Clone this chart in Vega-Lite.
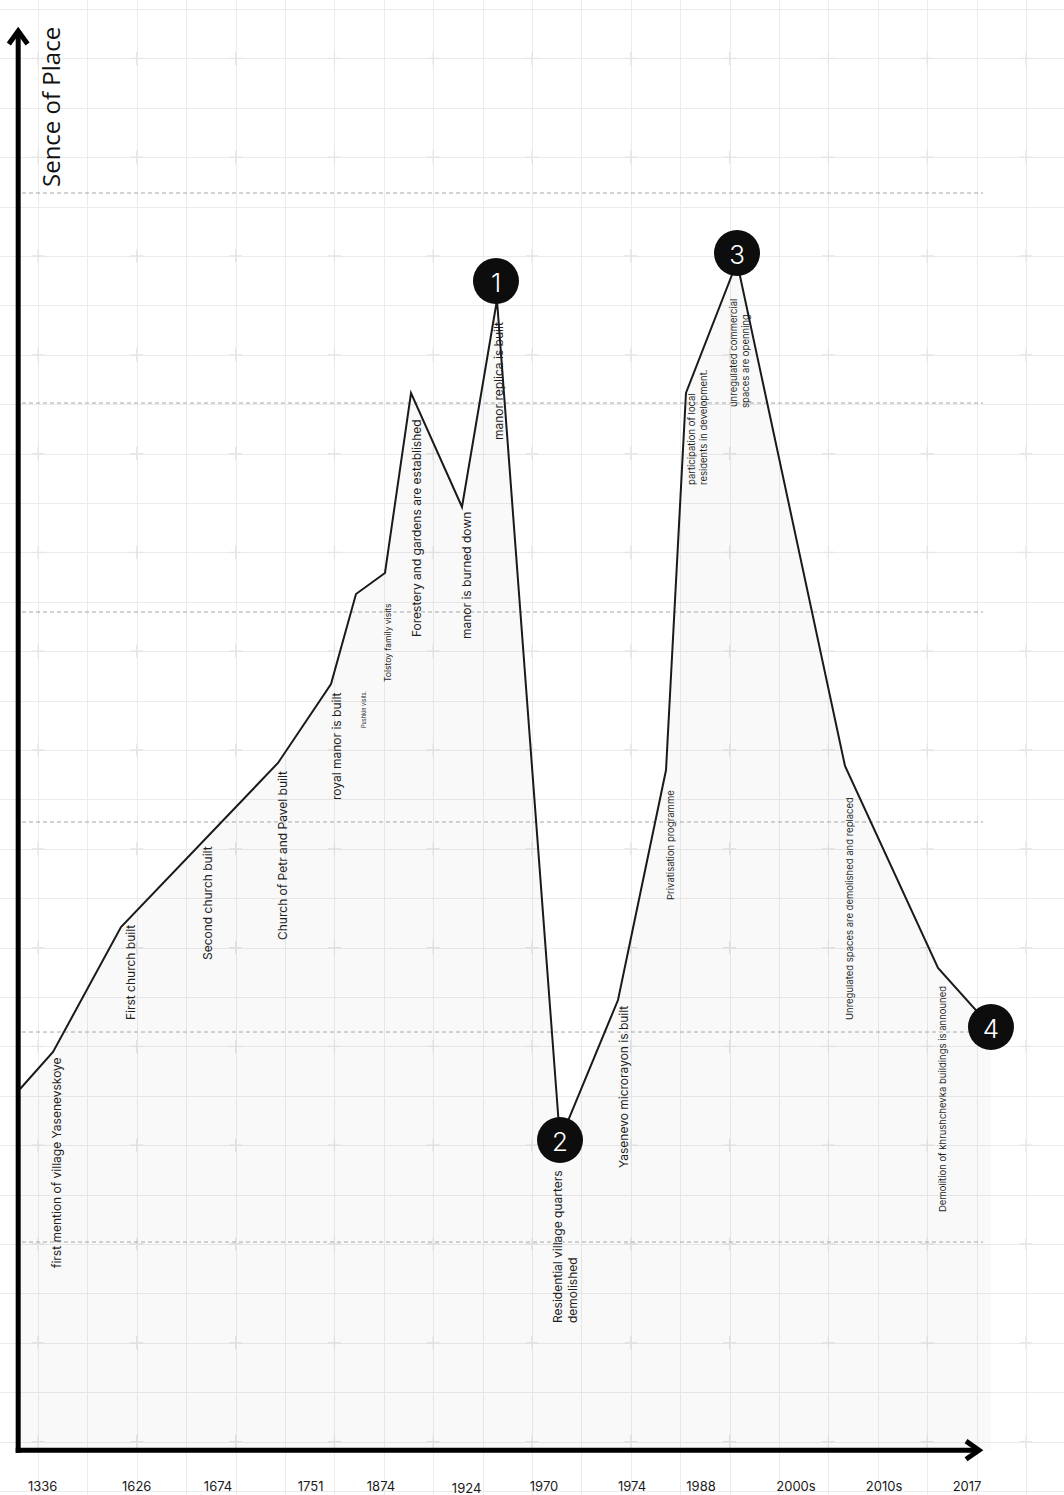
{
  "$schema": "https://vega.github.io/schema/vega-lite/v6.json",
  "width": 1064,
  "height": 1495,
  "autosize": {"type": "none"},
  "padding": 0,
  "background": "white",
  "config": {"view": {"stroke": null}},
  "datasets": {
    "crosses": [
      {"u":0,"v":1},{"u":2,"v":1},{"u":4,"v":1},{"u":6,"v":1},{"u":8,"v":1},{"u":10,"v":1},{"u":12,"v":1},{"u":14,"v":1},{"u":16,"v":1},{"u":18,"v":1},{"u":20,"v":1},
      {"u":0,"v":3},{"u":2,"v":3},{"u":4,"v":3},{"u":6,"v":3},{"u":8,"v":3},{"u":10,"v":3},{"u":12,"v":3},{"u":14,"v":3},{"u":16,"v":3},{"u":18,"v":3},{"u":20,"v":3},
      {"u":0,"v":5},{"u":2,"v":5},{"u":4,"v":5},{"u":6,"v":5},{"u":8,"v":5},{"u":10,"v":5},{"u":12,"v":5},{"u":14,"v":5},{"u":16,"v":5},{"u":18,"v":5},{"u":20,"v":5},
      {"u":0,"v":7},{"u":2,"v":7},{"u":4,"v":7},{"u":6,"v":7},{"u":8,"v":7},{"u":10,"v":7},{"u":12,"v":7},{"u":14,"v":7},{"u":16,"v":7},{"u":18,"v":7},{"u":20,"v":7},
      {"u":0,"v":9},{"u":2,"v":9},{"u":4,"v":9},{"u":6,"v":9},{"u":8,"v":9},{"u":10,"v":9},{"u":12,"v":9},{"u":14,"v":9},{"u":16,"v":9},{"u":18,"v":9},{"u":20,"v":9},
      {"u":0,"v":11},{"u":2,"v":11},{"u":4,"v":11},{"u":6,"v":11},{"u":8,"v":11},{"u":10,"v":11},{"u":12,"v":11},{"u":14,"v":11},{"u":16,"v":11},{"u":18,"v":11},{"u":20,"v":11},
      {"u":0,"v":13},{"u":2,"v":13},{"u":4,"v":13},{"u":6,"v":13},{"u":8,"v":13},{"u":10,"v":13},{"u":12,"v":13},{"u":14,"v":13},{"u":16,"v":13},{"u":18,"v":13},{"u":20,"v":13},
      {"u":0,"v":15},{"u":2,"v":15},{"u":4,"v":15},{"u":6,"v":15},{"u":8,"v":15},{"u":10,"v":15},{"u":12,"v":15},{"u":14,"v":15},{"u":16,"v":15},{"u":18,"v":15},{"u":20,"v":15},
      {"u":0,"v":17},{"u":2,"v":17},{"u":4,"v":17},{"u":6,"v":17},{"u":8,"v":17},{"u":10,"v":17},{"u":12,"v":17},{"u":14,"v":17},{"u":16,"v":17},{"u":18,"v":17},{"u":20,"v":17},
      {"u":0,"v":19},{"u":2,"v":19},{"u":4,"v":19},{"u":6,"v":19},{"u":8,"v":19},{"u":10,"v":19},{"u":12,"v":19},{"u":14,"v":19},{"u":16,"v":19},{"u":18,"v":19},{"u":20,"v":19},
      {"u":0,"v":21},{"u":2,"v":21},{"u":4,"v":21},{"u":6,"v":21},{"u":8,"v":21},{"u":10,"v":21},{"u":12,"v":21},{"u":14,"v":21},{"u":16,"v":21},{"u":18,"v":21},{"u":20,"v":21},
      {"u":0,"v":23},{"u":2,"v":23},{"u":4,"v":23},{"u":6,"v":23},{"u":8,"v":23},{"u":10,"v":23},{"u":12,"v":23},{"u":14,"v":23},{"u":16,"v":23},{"u":18,"v":23},{"u":20,"v":23},
      {"u":0,"v":25},{"u":2,"v":25},{"u":4,"v":25},{"u":6,"v":25},{"u":8,"v":25},{"u":10,"v":25},{"u":12,"v":25},{"u":14,"v":25},{"u":16,"v":25},{"u":18,"v":25},{"u":20,"v":25},
      {"u":0,"v":27},{"u":2,"v":27},{"u":4,"v":27},{"u":6,"v":27},{"u":8,"v":27},{"u":10,"v":27},{"u":12,"v":27},{"u":14,"v":27},{"u":16,"v":27},{"u":18,"v":27},{"u":20,"v":27},
      {"u":0,"v":29},{"u":2,"v":29},{"u":4,"v":29},{"u":6,"v":29},{"u":8,"v":29},{"u":10,"v":29},{"u":12,"v":29},{"u":14,"v":29},{"u":16,"v":29},{"u":18,"v":29},{"u":20,"v":29}
    ],
    "line": [
      {"u": -0.364, "v": 8.138},
      {"u": 0.304, "v": 8.887},
      {"u": 1.68, "v": 11.417},
      {"u": 4.858, "v": 14.737},
      {"u": 5.931, "v": 16.336},
      {"u": 6.437, "v": 18.158},
      {"u": 7.024, "v": 18.583},
      {"u": 7.551, "v": 22.227},
      {"u": 8.583, "v": 19.919},
      {"u": 9.291, "v": 24.109},
      {"u": 10.567, "v": 7.105},
      {"u": 11.741, "v": 9.939},
      {"u": 12.713, "v": 14.595},
      {"u": 13.117, "v": 22.227},
      {"u": 14.15, "v": 24.879},
      {"u": 16.336, "v": 14.676},
      {"u": 18.219, "v": 10.587},
      {"u": 19.291, "v": 9.393}
    ],
    "dashes": [
      {"u": -0.324, "u2": 19.13, "v": 26.275},
      {"u": -0.324, "u2": 19.13, "v": 22.024},
      {"u": -0.324, "u2": 19.13, "v": 17.794},
      {"u": -0.324, "u2": 19.13, "v": 13.543},
      {"u": -0.324, "u2": 19.13, "v": 9.291},
      {"u": -0.324, "u2": 19.13, "v": 5.04}
    ],
    "axes": [
      {"u": -0.401, "u2": -0.401, "v": 0.775, "v2": 29.555},
      {"u": -0.451, "u2": 19.049, "v": 0.826, "v2": 0.826}
    ],
    "arrows": [
      {"u": -0.401, "v": 29.555, "dir": "up"},
      {"u": 19.049, "v": 0.826, "dir": "right"}
    ],
    "markers": [
      {"u": 9.271, "v": 24.494, "n": "1"},
      {"u": 10.567, "v": 7.105, "n": "2"},
      {"u": 14.15, "v": 25.061, "n": "3"},
      {"u": 19.291, "v": 9.393, "n": "4"}
    ],
    "labels": [
      {"u": 0.385, "v": 4.514, "tier": "major", "label": "first mention of village Yasenevskoye"},
      {"u": 1.883, "v": 9.534, "tier": "major", "label": "First church built"},
      {"u": 3.441, "v": 10.749, "tier": "major", "label": "Second church built"},
      {"u": 4.96, "v": 11.154, "tier": "major", "label": "Church of Petr and Pavel built"},
      {"u": 6.053, "v": 13.988, "tier": "major", "label": "royal manor is built"},
      {"u": 6.599, "v": 15.445, "tier": "tiny", "label": "Pushkin visits."},
      {"u": 7.085, "v": 16.377, "tier": "small", "label": "Tolstoy family visits"},
      {"u": 7.672, "v": 17.287, "tier": "major", "label": "Forestery and gardens are established"},
      {"u": 8.684, "v": 17.247, "tier": "major", "label": "manor is burned down"},
      {"u": 9.332, "v": 21.275, "tier": "major", "label": "manor replica is built"},
      {"u": 10.526, "v": 3.401, "tier": "major", "label": "Residential village quarters"},
      {"u": 10.83, "v": 3.401, "tier": "major", "label": "demolished"},
      {"u": 11.862, "v": 6.538, "tier": "major", "label": "Yasenevo microrayon is built"},
      {"u": 12.814, "v": 11.964, "tier": "minor", "label": "Privatisation programme"},
      {"u": 13.239, "v": 20.364, "tier": "minor", "label": "participation of local"},
      {"u": 13.482, "v": 20.364, "tier": "minor", "label": "residents in development."},
      {"u": 14.089, "v": 21.943, "tier": "minor", "label": "unregulated commercial"},
      {"u": 14.332, "v": 21.923, "tier": "minor", "label": "spaces are openning"},
      {"u": 16.437, "v": 9.534, "tier": "minor", "label": "Unregulated spaces are demolished and replaced"},
      {"u": 18.32, "v": 5.648, "tier": "minor", "label": "Demolition of khrushchevka buildings is announed"}
    ],
    "years": [
      {"u": 0.095, "v": 0.0, "label": "1336"},
      {"u": 1.998, "v": 0.0, "label": "1626"},
      {"u": 3.644, "v": 0.0, "label": "1674"},
      {"u": 5.518, "v": 0.0, "label": "1751"},
      {"u": 6.943, "v": 0.0, "label": "1874"},
      {"u": 8.676, "v": -0.045, "label": "1924"},
      {"u": 10.243, "v": 0.0, "label": "1970"},
      {"u": 12.024, "v": 0.0, "label": "1974"},
      {"u": 13.421, "v": 0.0, "label": "1988"},
      {"u": 15.344, "v": 0.0, "label": "2000s"},
      {"u": 17.126, "v": 0.0, "label": "2010s"},
      {"u": 18.806, "v": 0.0, "label": "2017"}
    ],
    "title": [
      {"u": 0.445, "v": 26.397, "label": "Sence of Place"}
    ]
  },
  "encoding": {
    "x": {
      "field": "u",
      "type": "quantitative",
      "scale": {"domain": [-0.76923, 20.76923], "nice": false, "zero": false},
      "axis": {
        "values": [0,1,2,3,4,5,6,7,8,9,10,11,12,13,14,15,16,17,18,19,20],
        "grid": true, "gridColor": "#ebebeb", "gridWidth": 1,
        "labels": false, "ticks": false, "domain": false, "title": null
      }
    },
    "y": {
      "field": "v",
      "type": "quantitative",
      "scale": {"domain": [-0.08097, 30.1822], "nice": false, "zero": false},
      "axis": {
        "values": [0,1,2,3,4,5,6,7,8,9,10,11,12,13,14,15,16,17,18,19,20,21,22,23,24,25,26,27,28,29,30],
        "grid": true, "gridColor": "#ebebeb", "gridWidth": 1,
        "labels": false, "ticks": false, "domain": false, "title": null
      }
    }
  },
  "layer": [
    {
      "data": {"name": "crosses"},
      "mark": {"type": "point", "shape": "M -1 0 L 1 0 M 0 -1 L 0 1", "filled": false, "color": "#e5e5e5", "strokeWidth": 1.3, "size": 169, "opacity": 1}
    },
    {
      "data": {"name": "line"},
      "mark": {"type": "area", "fill": "#000000", "fillOpacity": 0.022, "interpolate": "linear"},
      "encoding": {"y2": {"datum": 0.826}}
    },
    {
      "data": {"name": "dashes"},
      "mark": {"type": "rule", "color": "#a6a6a6", "strokeWidth": 1, "strokeDash": [4, 3]},
      "encoding": {"x2": {"field": "u2"}}
    },
    {
      "data": {"name": "line"},
      "mark": {"type": "line", "color": "#1a1a1a", "strokeWidth": 2, "interpolate": "linear"}
    },
    {
      "data": {"name": "axes"},
      "mark": {"type": "rule", "color": "#000000", "strokeWidth": 5, "strokeCap": "butt"},
      "encoding": {"x2": {"field": "u2"}, "y2": {"field": "v2"}}
    },
    {
      "data": {"name": "arrows"},
      "mark": {"type": "point", "filled": false, "color": "#000000", "strokeWidth": 5, "strokeJoin": "miter", "strokeCap": "butt", "size": 676, "opacity": 1},
      "encoding": {
        "shape": {
          "field": "dir",
          "type": "nominal",
          "scale": {"domain": ["up", "right"], "range": ["M -0.72 1 L 0 0 L 0.72 1", "M -1 -0.7 L 0 0 L -1 0.7"]},
          "legend": null
        }
      }
    },
    {
      "data": {"name": "markers"},
      "mark": {"type": "point", "shape": "circle", "filled": true, "color": "#0d0d0d", "size": 2116, "opacity": 1}
    },
    {
      "data": {"name": "markers"},
      "mark": {"type": "text", "color": "#ffffff", "font": "Inter", "fontSize": 26, "fontWeight": 300, "align": "center", "baseline": "middle", "dy": 3},
      "encoding": {"text": {"field": "n"}}
    },
    {
      "data": {"name": "labels"},
      "transform": [{"filter": "datum.tier === 'major'"}],
      "mark": {"type": "text", "color": "#1f1f1f", "font": "Inter", "fontSize": 12, "angle": 270, "align": "left", "baseline": "middle"},
      "encoding": {"text": {"field": "label"}}
    },
    {
      "data": {"name": "labels"},
      "transform": [{"filter": "datum.tier === 'minor'"}],
      "mark": {"type": "text", "color": "#1f1f1f", "font": "Inter", "fontSize": 9.5, "angle": 270, "align": "left", "baseline": "middle"},
      "encoding": {"text": {"field": "label"}}
    },
    {
      "data": {"name": "labels"},
      "transform": [{"filter": "datum.tier === 'small'"}],
      "mark": {"type": "text", "color": "#1f1f1f", "font": "Inter", "fontSize": 8.5, "angle": 270, "align": "left", "baseline": "middle"},
      "encoding": {"text": {"field": "label"}}
    },
    {
      "data": {"name": "labels"},
      "transform": [{"filter": "datum.tier === 'tiny'"}],
      "mark": {"type": "text", "color": "#1f1f1f", "font": "Inter", "fontSize": 5.5, "angle": 270, "align": "left", "baseline": "middle"},
      "encoding": {"text": {"field": "label"}}
    },
    {
      "data": {"name": "years"},
      "mark": {"type": "text", "color": "#1a1a1a", "font": "Inter", "fontSize": 13, "align": "center", "baseline": "alphabetic"},
      "encoding": {"text": {"field": "label"}}
    },
    {
      "data": {"name": "title"},
      "mark": {"type": "text", "color": "#111111", "font": "Open Sans", "fontSize": 24, "angle": 270, "align": "left", "baseline": "alphabetic"},
      "encoding": {"text": {"field": "label"}}
    }
  ]
}
